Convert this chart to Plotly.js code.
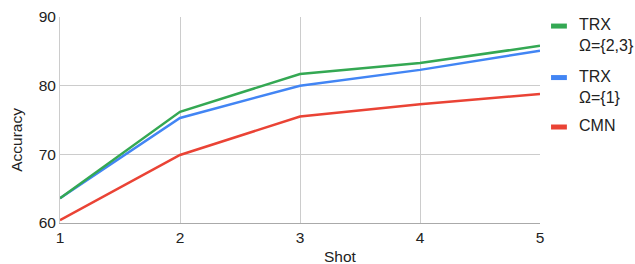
<!DOCTYPE html>
<html><head><meta charset="utf-8">
<script src="https://cdn.plot.ly/plotly-3.0.1.min.js"></script>
<style>html,body{margin:0;padding:0;background:#fff}#c{width:635px;height:264px}</style>
</head><body><div id="c"></div>
<script>
const shots = [1, 2, 3, 4, 5];
const trx23 = [63.6, 76.2, 81.7, 83.3, 85.8];
const trx1 = [63.6, 75.3, 80.0, 82.3, 85.1];
const cmn = [60.4, 69.9, 75.5, 77.3, 78.8];
const names = ["TRX<br>Ω={2,3}", "TRX<br>Ω={1}", "CMN"];
const colors = ["#34a853", "#4285f4", "#ea4335"];
const series = [trx23, trx1, cmn];
const xTitle = "Shot", yTitle = "Accuracy";

const traces = series.map((s, i) => ({
  x: shots, y: s, mode: 'lines', name: names[i],
  line: {color: colors[i], width: 2.5}, showlegend: false
}));
traces.reverse();

const legY = [0.956, 0.706, 0.466];
const shapes = [], annotations = [];
names.forEach((n, i) => {
  shapes.push({type: 'line', xref: 'paper', yref: 'paper', x0: 1.023, x1: 1.056, y0: legY[i], y1: legY[i],
    line: {color: colors[i], width: 5}});
  annotations.push({xref: 'paper', yref: 'paper', x: 1.077, y: legY[i] + 0.057, xanchor: 'left', yanchor: 'top',
    text: n, showarrow: false, align: 'left', font: {size: 16, color: '#222'}});
});
annotations.push({xref: 'paper', yref: 'paper', x: 0.585, y: -0.163, xanchor: 'center', yanchor: 'middle',
  text: xTitle, showarrow: false, font: {size: 15.5, color: '#222'}});
annotations.push({xref: 'paper', yref: 'paper', x: -0.09, y: 0.403, xanchor: 'center', yanchor: 'middle',
  text: yTitle, textangle: -90, showarrow: false, font: {size: 15.5, color: '#222'}});

Plotly.newPlot('c', traces, {
  width: 635, height: 264,
  margin: {l: 60, r: 95, t: 17, b: 41},
  font: {family: "'Liberation Sans', Arial, sans-serif", color: '#222', size: 16},
  paper_bgcolor: '#fff', plot_bgcolor: '#fff',
  xaxis: {range: [1, 5], tickvals: shots, gridcolor: '#cccccc', showline: true, linecolor: '#aaaaaa',
    zeroline: false, ticks: '', tickfont: {size: 15.5}},
  yaxis: {range: [60, 90], dtick: 10, gridcolor: '#cccccc', showline: true, linecolor: '#cccccc',
    zeroline: false, ticks: '', tickfont: {size: 15.5}},
  shapes: shapes, annotations: annotations
}, {displayModeBar: false, staticPlot: true});
</script></body></html>
